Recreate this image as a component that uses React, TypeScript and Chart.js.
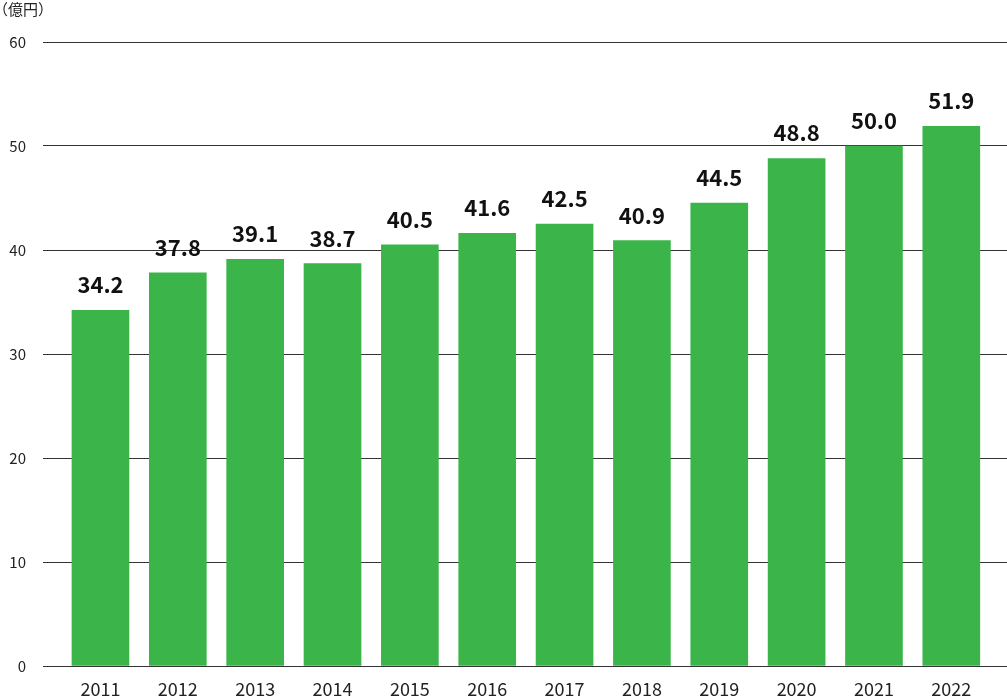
import React, { useEffect, useRef } from "react";
import { Chart, registerables } from "chart.js";

Chart.register(...registerables);

const years = ["2011", "2012", "2013", "2014", "2015", "2016", "2017", "2018", "2019", "2020", "2021", "2022"];
const values = [34.2, 37.8, 39.1, 38.7, 40.5, 41.6, 42.5, 40.9, 44.5, 48.8, 50.0, 51.9];
const unitLabel = "（億円）";
const barColor = "#3bb54a";
const FONT = "'Noto Sans CJK JP', 'Noto Sans', sans-serif";

const labelPlugin = {
  id: "valueLabels",
  afterDatasetsDraw(chart: any) {
    const ctx = chart.ctx;
    const meta = chart.getDatasetMeta(0);
    ctx.save();
    ctx.font = `bold 22px ${FONT}`;
    ctx.fillStyle = "#111";
    ctx.textAlign = "center";
    ctx.textBaseline = "alphabetic";
    meta.data.forEach((el: any, i: number) => {
      ctx.fillText(values[i].toFixed(1), el.x, el.y - 17);
    });
    ctx.font = `15px ${FONT}`;
    ctx.fillStyle = "#222";
    ctx.textAlign = "left";
    ctx.textBaseline = "middle";
    ctx.fillText(unitLabel, -7, 9);
    ctx.restore();
  },
};

export default function App() {
  const ref = useRef<HTMLCanvasElement>(null);
  useEffect(() => {
    document.body.style.margin = "0";
    const chart = new Chart(ref.current!, {
      type: "bar",
      data: {
        datasets: [
          {
            data: values.map((v, i) => ({ x: i, y: v })),
            backgroundColor: barColor,
            barThickness: 57,
          },
        ],
      },
      options: {
        animation: false,
        responsive: false,
        maintainAspectRatio: false,
        layout: { padding: { top: 42, left: 0, right: 0, bottom: 0 } },
        plugins: { legend: { display: false }, tooltip: { enabled: false } },
        scales: {
          x: {
            type: "linear",
            offset: false,
            min: -0.743,
            max: 11.72,
            grid: { display: false, drawTicks: false, offset: false },
            border: { display: false },
            afterBuildTicks: (scale: any) => {
              scale.ticks = years.map((_, i) => ({ value: i }));
            },
            afterFit: (scale: any) => {
              scale.height = 31;
            },
            ticks: {
              autoSkip: false,
              maxRotation: 0,
              padding: 12,
              color: "#222",
              font: { family: FONT, size: 18 },
              callback: (v: any) => years[v as number] ?? "",
            },
          },
          y: {
            min: 0,
            max: 60,
            grid: { color: "#333", lineWidth: 1, drawTicks: false },
            border: { display: false },
            afterFit: (scale: any) => {
              scale.width = 43;
            },
            ticks: {
              stepSize: 10,
              padding: 17,
              color: "#222",
              font: { family: FONT, size: 15 },
            },
          },
        },
      },
      plugins: [labelPlugin],
    });
    return () => chart.destroy();
  }, []);
  return (
    <div style={{ width: 1007, height: 697 }}>
      <canvas ref={ref} width={1007} height={697} style={{ width: 1007, height: 697 }} />
    </div>
  );
}
